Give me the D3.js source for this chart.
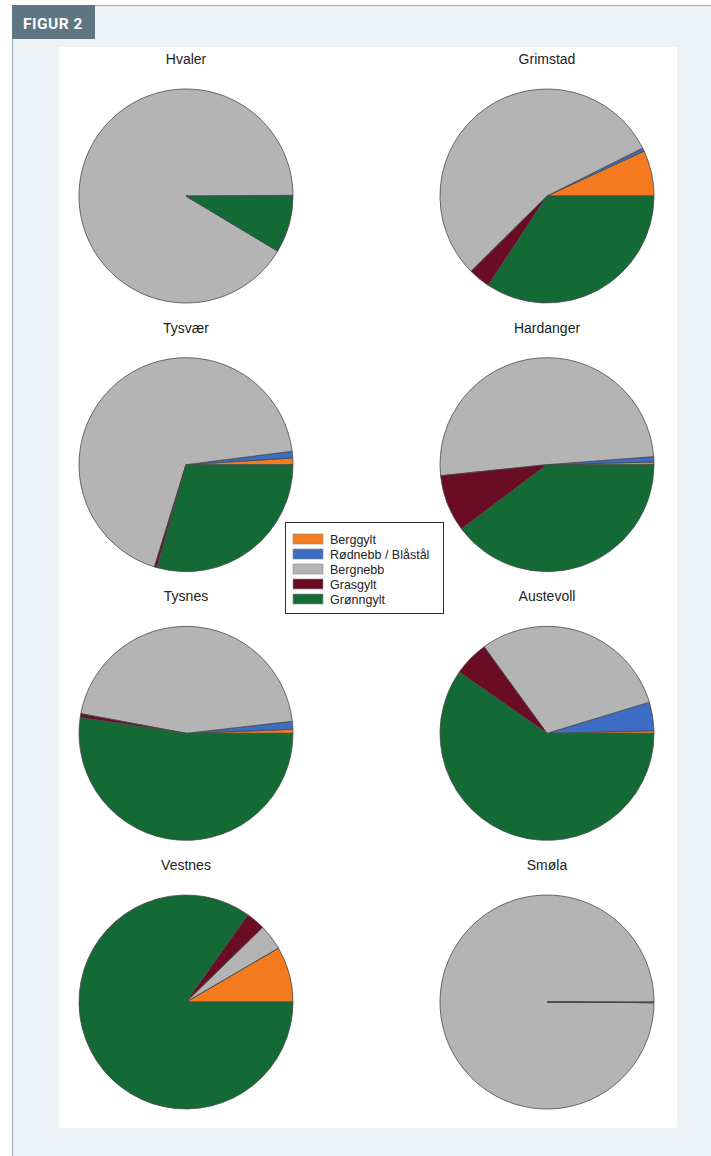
<!DOCTYPE html>
<html>
<head>
<meta charset="utf-8">
<script src="https://cdn.jsdelivr.net/npm/d3@7"></script>
<style>
  html, body { margin: 0; padding: 0; background: #fff; }
  svg { display: block; }
</style>
</head>
<body>
<div id="chart"></div>
<script>
// sites in reading order (two columns, four rows)
const sites = ["Hvaler", "Grimstad", "Tysvær", "Hardanger", "Tysnes", "Austevoll", "Vestnes", "Smøla"];
const species = ["Berggylt", "Rødnebb / Blåstål", "Bergnebb", "Grasgylt", "Grønngylt"];
const speciesColors = ["#f47b20", "#3c6cc4", "#b4b4b4", "#6a0c24", "#136a35"];

// share (%) of each species per site
const berggylt  = [0.1, 6.9, 1.0, 0.4, 0.6, 0.4, 8.4, 0];
const rodnebb   = [0,   0.5, 1.0, 0.8, 1.2, 4.3, 0,   0];
const bergnebb  = [91.3, 55.1, 68.3, 50.4, 45.3, 30.3, 3.9, 99.9];
const grasgylt  = [0,   3.3, 0.4, 8.6, 0.6, 5.3, 2.9, 0];
const gronngylt = [8.6, 34.3, 29.4, 39.7, 52.4, 59.7, 84.8, 0.1];

const W = 711, H = 1156;
const svg = d3.select("#chart").append("svg").attr("width", W).attr("height", H);

// frame
svg.append("rect").attr("x", 12).attr("y", 5).attr("width", W - 12).attr("height", H - 5).attr("fill", "#ecf2f5");
svg.append("line").attr("x1", 12).attr("x2", W).attr("y1", 5.5).attr("y2", 5.5).attr("stroke", "#9aabb5");
svg.append("line").attr("x1", 12.5).attr("x2", 12.5).attr("y1", 5).attr("y2", H).attr("stroke", "#9aabb5");
svg.append("rect").attr("x", 12).attr("y", 5).attr("width", 83).attr("height", 34).attr("fill", "#5e7582");
svg.append("text").attr("x", 23).attr("y", 28.5).attr("fill", "#fff")
  .attr("font-family", "Roboto, 'Open Sans', sans-serif").attr("font-weight", 700).attr("font-size", 15.5)
  .attr("letter-spacing", 0.5)
  .text("FIGUR 2");
svg.append("rect").attr("x", 59).attr("y", 47).attr("width", 618).attr("height", 1081).attr("fill", "#fff");

const col = d3.scalePoint().domain([0, 1]).range([186, 547]);
const row = d3.scalePoint().domain([0, 1, 2, 3]).range([196, 1002]);
const radius = 107;

const pie = d3.pie().sort(null).value(d => d.v)
  .startAngle(Math.PI / 2).endAngle(Math.PI / 2 - 2 * Math.PI);
const arc = d3.arc().innerRadius(0).outerRadius(radius);

sites.forEach((site, i) => {
  const vals = [berggylt[i], rodnebb[i], bergnebb[i], grasgylt[i], gronngylt[i]]
    .map((v, k) => ({ v, k }));
  const g = svg.append("g")
    .attr("transform", `translate(${col(i % 2)},${row(Math.floor(i / 2))})`);

  g.selectAll("path").data(pie(vals)).join("path")
    .attr("d", arc)
    .attr("fill", d => speciesColors[d.data.k])
    .attr("stroke", "#4a4a4a")
    .attr("stroke-width", 0.8)
    .attr("stroke-linejoin", "round");

  g.append("text")
    .attr("x", 0).attr("y", -radius - 25)
    .attr("text-anchor", "middle")
    .attr("font-family", "'Liberation Sans', Arial, sans-serif")
    .attr("font-size", 14)
    .attr("fill", "#222")
    .text(site);
});

// legend
const lg = svg.append("g").attr("transform", "translate(285,522)");
lg.append("rect").attr("x", 0.5).attr("y", 0.5).attr("width", 158).attr("height", 91)
  .attr("fill", "#fff").attr("stroke", "#333").attr("stroke-width", 1);
const ly = d3.scalePoint().domain(species).range([17, 77]);
const item = lg.selectAll("g.item").data(species).join("g").attr("class", "item")
  .attr("transform", d => `translate(0,${ly(d)})`);
item.append("rect").attr("x", 8).attr("y", -5).attr("width", 30).attr("height", 10)
  .attr("fill", (d, k) => speciesColors[k]).attr("stroke", "#888").attr("stroke-width", 0.6);
item.append("text").attr("x", 45).attr("y", 4.5)
  .attr("font-family", "'Liberation Sans', Arial, sans-serif").attr("font-size", 12.5).attr("fill", "#222")
  .text(d => d);
</script>
</body>
</html>
